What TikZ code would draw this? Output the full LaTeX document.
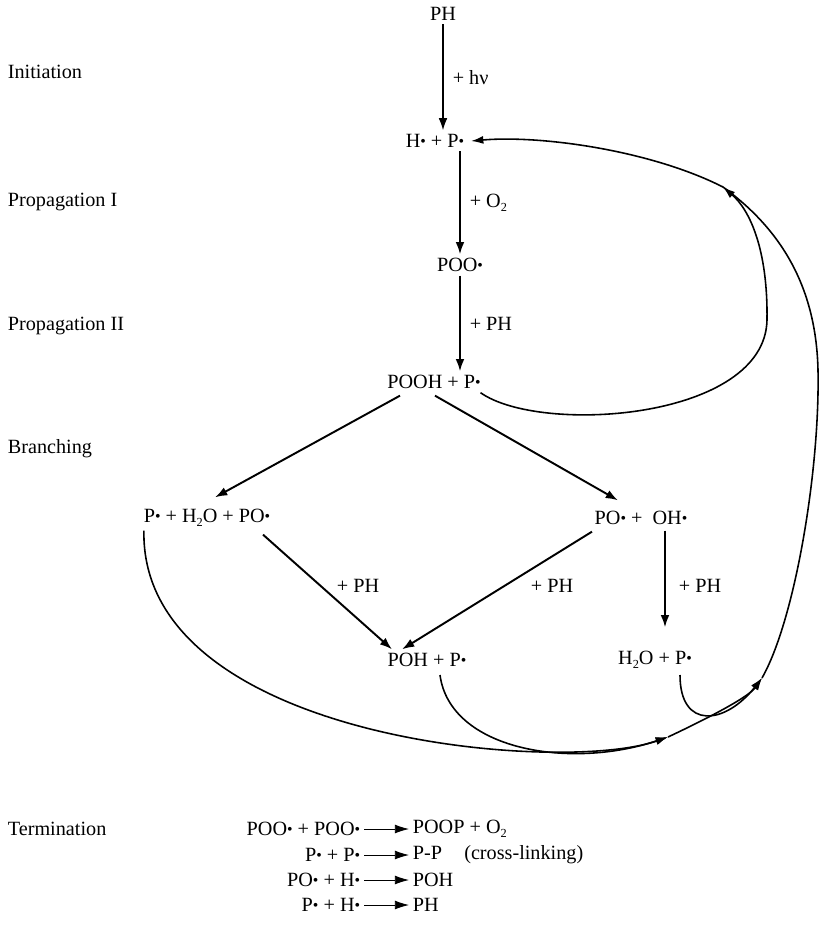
\documentclass[tikz,border=0pt]{standalone}
\usepackage{fontspec}
\setmainfont{Liberation Serif}
\usetikzlibrary{calc}
\usetikzlibrary{arrows.meta}

% radical dot and small subscript
\newcommand{\rad}{{\fontsize{9}{9}\selectfont\raisebox{0.12ex}{\textbullet}}}
\newcommand{\low}[1]{\raisebox{-0.45ex}{\fontsize{7}{7}\selectfont #1}}

\begin{document}
\begin{tikzpicture}[x=0.02cm, y=-0.02cm,
    every node/.style={font=\fontsize{11.5}{13}\selectfont, inner sep=2pt},
    rxn/.style={line width=1.1pt, -{Latex[length=7pt,width=5pt]}},
    loop/.style={line width=0.9pt, -{Latex[length=7pt,width=4.5pt]}},
    term/.style={line width=0.45pt, -{Latex[length=8pt,width=5pt]}},
    stage/.style={anchor=west}]

    \useasboundingbox (0,0) rectangle (820,931);

    % stage names on the left
    \node[stage] (init) at (4,72) {Initiation};
    \node[stage] (prop1) at (4,202) {Propagation I};
    \node[stage] (prop2) at (4,326) {Propagation II};
    \node[stage] (branch) at (4,449) {Branching};
    \node[stage] (termin) at (4,829) {Termination};

    % species
    \node (ph) at (443,14) {PH};
    \node (hp) at (435,141) {H\rad{} + P\rad};
    \node (poo) at (460,265) {POO\rad};
    \node (pooh) at (434,382) {POOH + P\rad};
    \node (lft) at (207,518) {P\rad{} + H\low{2}O + PO\rad};
    \node (rgt) at (641,518) {PO\rad{} + \ OH\rad};
    \node (poh) at (427,660) {POH + P\rad};
    \node (h2op) at (655,660) {H\low{2}O + P\rad};

    % main chain
    \draw[rxn] (ph.south) -- (ph.south |- hp.north) node[midway, right=3pt] (hnu) {+ hν};
    \draw[rxn] (poo.north |- hp.south) -- (poo.north) node[midway, right=3pt] (oxy) {+ O\low{2}};
    \draw[rxn] (poo.south) -- (poo.south |- pooh.north) node[midway, right=3pt] (ph1) {+ PH};

    % branching
    \draw[rxn] ($(pooh.south)+(-34,3)$) -- ($(lft.north)+(8,-8)$);
    \draw[rxn] ($(pooh.south)+(1,3)$) -- ($(rgt.north)+(-23,-7)$);
    \draw[rxn] ($(lft.south)+(56,4)$) -- ($(poh.north)+(-35,0)$);
    \draw[rxn] ($(rgt.south)+(-49,3)$) -- ($(poh.north)+(-25,0)$);
    \draw[rxn] ($(rgt.south)+(24,2)$) -- ($(h2op.north)+(10,-20)$);
    \node (ph2) at (358,586) {+ PH};
    \node (ph3) at (552,586) {+ PH};
    \node (ph4) at (700,586) {+ PH};

    % P radicals fed back
    \coordinate (j1) at (668,737);
    \coordinate (j2) at (762,678);
    \coordinate (j3) at (723,187);

    \draw[loop] ($(lft.south west)+(4,0)$) .. controls (140,740) and (560,775) .. (j1);
    \draw[loop] ($(poh)+(13,15)$) .. controls (450,750) and (570,770) .. (j1);
    \draw[loop] (j1) .. controls (700,722) and (748,698) .. (j2);
    \draw[loop] ($(h2op)+(25,15)$) .. controls (680,730) and (725,725) .. (j2);
    \draw[loop] ($(pooh.south east)+(-4,0)$) .. controls (540,435) and (765,420) .. (767,320)
        .. controls (768,250) and (750,210) .. (j3);
    \draw[loop] (j2) .. controls (795,620) and (820,470) .. (818,370)
        .. controls (816,280) and (775,225) .. (j3)
        .. controls (650,150) and (540,135) .. ($(hp.east)+(3,0)$);

    % termination steps
    \node[anchor=east] (t1l) at (364,829) {POO\rad{} + POO\rad};
    \node[anchor=west] (t1r) at (409,829) {POOP + O\low{2}};
    \draw[term] (t1l) -- (t1r);
    \node[anchor=east] (t2l) at (364,855) {P\rad{} + P\rad};
    \node[anchor=west] (t2r) at (409,855) {P-P\hspace{1.1em}(cross-linking)};
    \draw[term] (t2l) -- (t2r);
    \node[anchor=east] (t3l) at (364,880) {PO\rad{} + H\rad};
    \node[anchor=west] (t3r) at (409,880) {POH};
    \draw[term] (t3l) -- (t3r);
    \node[anchor=east] (t4l) at (364,905) {P\rad{} + H\rad};
    \node[anchor=west] (t4r) at (409,905) {PH};
    \draw[term] (t4l) -- (t4r);

\end{tikzpicture}
\end{document}
